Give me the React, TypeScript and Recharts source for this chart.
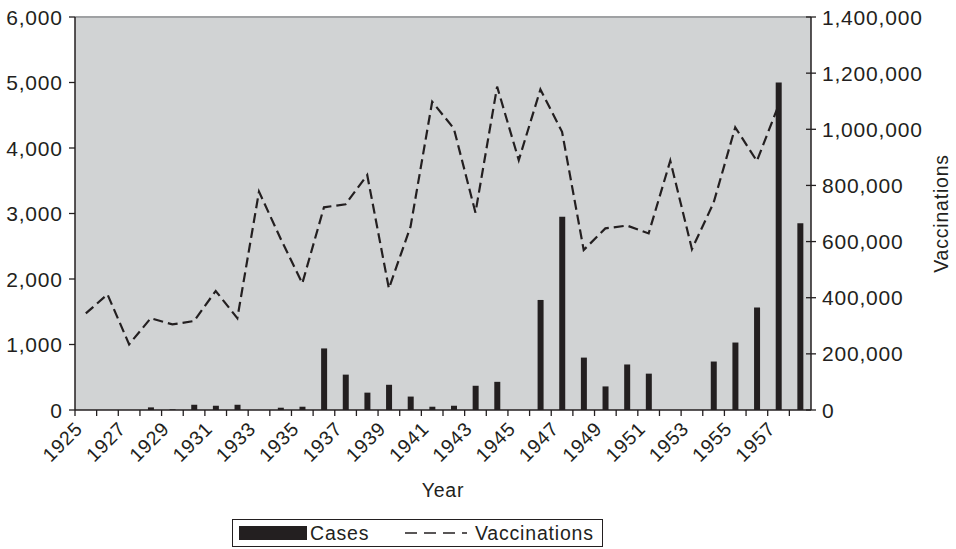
import React from 'react';
import {
  ComposedChart,
  Bar,
  Line,
  XAxis,
  YAxis,
  CartesianGrid,
  Legend,
  ReferenceLine,
} from 'recharts';

const years = [
  '1925', '1926', '1927', '1928', '1929', '1930', '1931', '1932', '1933', '1934',
  '1935', '1936', '1937', '1938', '1939', '1940', '1941', '1942', '1943', '1944',
  '1945', '1946', '1947', '1948', '1949', '1950', '1951', '1952', '1953', '1954',
  '1955', '1956', '1957', '1958',
];

const cases = [
  0, 0, 0, 40, 10, 80, 65, 80, 0, 35,
  50, 940, 540, 265, 385, 205, 50, 65, 370, 430,
  0, 1680, 2950, 800, 360, 695, 555, 0, 0, 740,
  1030, 1565, 5000, 2850,
];

const vaccinations: (number | null)[] = [
  344000, 412000, 234000, 327000, 305000, 317000, 424000, 327000, 778000, 610000,
  451000, 722000, 733000, 837000, 433000, 653000, 1098000, 1003000, 703000, 1152000,
  890000, 1142000, 991000, 570000, 647000, 657000, 629000, 888000, 573000, 738000,
  1007000, 887000, 1085000, null,
];

const caseTicks = [0, 1000, 2000, 3000, 4000, 5000, 6000];
const vaccTicks = [0, 200000, 400000, 600000, 800000, 1000000, 1200000, 1400000];
const labelledYears = [
  '1925', '1927', '1929', '1931', '1933', '1935', '1937', '1939', '1941',
  '1943', '1945', '1947', '1949', '1951', '1953', '1955', '1957',
];

const data = years.map((year, i) => ({
  year,
  cases: cases[i],
  vaccinations: vaccinations[i],
}));

const W = 956;
const H = 549;
const TOP = 17;
const LEFT_W = 75;
const RIGHT_W = 145;
const X_H = 139;
const PLOT_W = W - LEFT_W - RIGHT_W;
const BAND = PLOT_W / years.length;

const FONT = '"Liberation Sans", Arial, Helvetica, sans-serif';
const FS = 19.5;
const FS_Y = 21;
const LS = 0.8;
const INK = '#231f20';
const BG = '#d1d3d4';

const fmt = (v: number) => v.toLocaleString('en-US');

const textProps = {
  fontFamily: FONT,
  fontSize: FS,
  fill: INK,
  letterSpacing: LS,
};

const XTick = (props: any) => {
  const { x, y, payload } = props;
  const axisY = y - 6;
  const left = x - BAND / 2;
  const show = labelledYears.includes(String(payload.value));
  const ax = x - 2;
  const ay = axisY + 20;
  return (
    <g>
      <line x1={left} x2={left} y1={axisY} y2={axisY + 6} stroke={INK} strokeWidth={1.3} />
      {show && (
        <text x={ax} y={ay} transform={`rotate(-45, ${ax}, ${ay})`} textAnchor="end" {...textProps}>
          {payload.value}
        </text>
      )}
    </g>
  );
};

const RTick = (props: any) => {
  const { x, y, payload } = props;
  const axisX = x - 5 - 6;
  return (
    <g>
      <line x1={axisX - 5} x2={axisX + 5} y1={y} y2={y} stroke={INK} strokeWidth={1.3} />
      <text x={x} y={y} dy="0.36em" textAnchor="start" {...textProps} fontSize={FS_Y}>
        {fmt(payload.value)}
      </text>
    </g>
  );
};

const LTick = (props: any) => {
  const { x, y, payload } = props;
  return (
    <text x={x + LS} y={y} dy="0.36em" textAnchor="end" {...textProps} fontSize={FS_Y}>
      {fmt(payload.value)}
    </text>
  );
};

const YearTitle = () => (
  <text x={LEFT_W + PLOT_W / 2} y={497} textAnchor="middle" {...textProps}>
    Year
  </text>
);

const VaccTitle = () => {
  const x = 948;
  const y = TOP + (H - TOP - X_H) / 2;
  return (
    <text x={x} y={y} transform={`rotate(-90, ${x}, ${y})`} textAnchor="middle" {...textProps}>
      Vaccinations
    </text>
  );
};

const legendText: React.CSSProperties = {
  position: 'absolute',
  top: 0,
  lineHeight: '26px',
  fontFamily: FONT,
  fontSize: FS,
  letterSpacing: LS,
  color: INK,
  whiteSpace: 'nowrap',
};

const LegendBox = () => (
  <div
    style={{
      position: 'relative',
      width: 371,
      height: 28,
      border: `1px solid ${INK}`,
      boxSizing: 'border-box',
      background: '#fff',
    }}
  >
    <span style={{ position: 'absolute', left: 6, top: 6, width: 68, height: 14, background: INK }} />
    <span style={{ ...legendText, left: 77 }}>Cases</span>
    <svg width={64} height={10} style={{ position: 'absolute', left: 172, top: 8 }}>
      <line x1={0} x2={62} y1={5} y2={5} stroke={INK} strokeWidth={1.5} strokeDasharray="12 7" />
    </svg>
    <span style={{ ...legendText, left: 242 }}>Vaccinations</span>
  </div>
);

export default function App() {
  return (
    <div style={{ position: 'absolute', left: 0, top: 0, width: W, height: H, background: '#fff' }}>
      <ComposedChart
        width={W}
        height={H}
        data={data}
        margin={{ top: TOP, right: 0, bottom: 0, left: 0 }}
      >
        <CartesianGrid yAxisId="left" horizontal={false} vertical={false} fill={BG} stroke="none" />
        <XAxis
          dataKey="year"
          height={X_H}
          interval={0}
          tickSize={6}
          tickMargin={0}
          tickLine={false}
          axisLine={{ stroke: INK, strokeWidth: 1.5 }}
          tick={<XTick />}
          label={<YearTitle />}
        />
        <YAxis
          yAxisId="left"
          orientation="left"
          width={LEFT_W}
          domain={[0, 6000]}
          ticks={caseTicks}
          interval={0}
          tickSize={6}
          tickMargin={7}
          tickLine={{ stroke: INK, strokeWidth: 1.3 }}
          axisLine={{ stroke: INK, strokeWidth: 1.5 }}
          tick={<LTick />}
        />
        <YAxis
          yAxisId="right"
          orientation="right"
          width={RIGHT_W}
          domain={[0, 1400000]}
          ticks={vaccTicks}
          interval={0}
          tickSize={5}
          tickMargin={6}
          tickLine={false}
          axisLine={{ stroke: INK, strokeWidth: 1.5 }}
          tick={<RTick />}
          label={<VaccTitle />}
        />
        <ReferenceLine yAxisId="left" y={6000} stroke="#9fa1a3" strokeWidth={2} />
        <Legend
          layout="horizontal"
          verticalAlign="middle"
          align="center"
          wrapperStyle={{ left: 232, top: 519, width: 371, height: 28 }}
          content={<LegendBox />}
        />
        <Bar
          yAxisId="left"
          dataKey="cases"
          name="Cases"
          fill={INK}
          barSize={6}
          isAnimationActive={false}
        />
        <Line
          yAxisId="right"
          dataKey="vaccinations"
          name="Vaccinations"
          type="linear"
          stroke={INK}
          strokeWidth={2.2}
          strokeDasharray="10 5"
          dot={false}
          activeDot={false}
          connectNulls={false}
          isAnimationActive={false}
        />
      </ComposedChart>
    </div>
  );
}
